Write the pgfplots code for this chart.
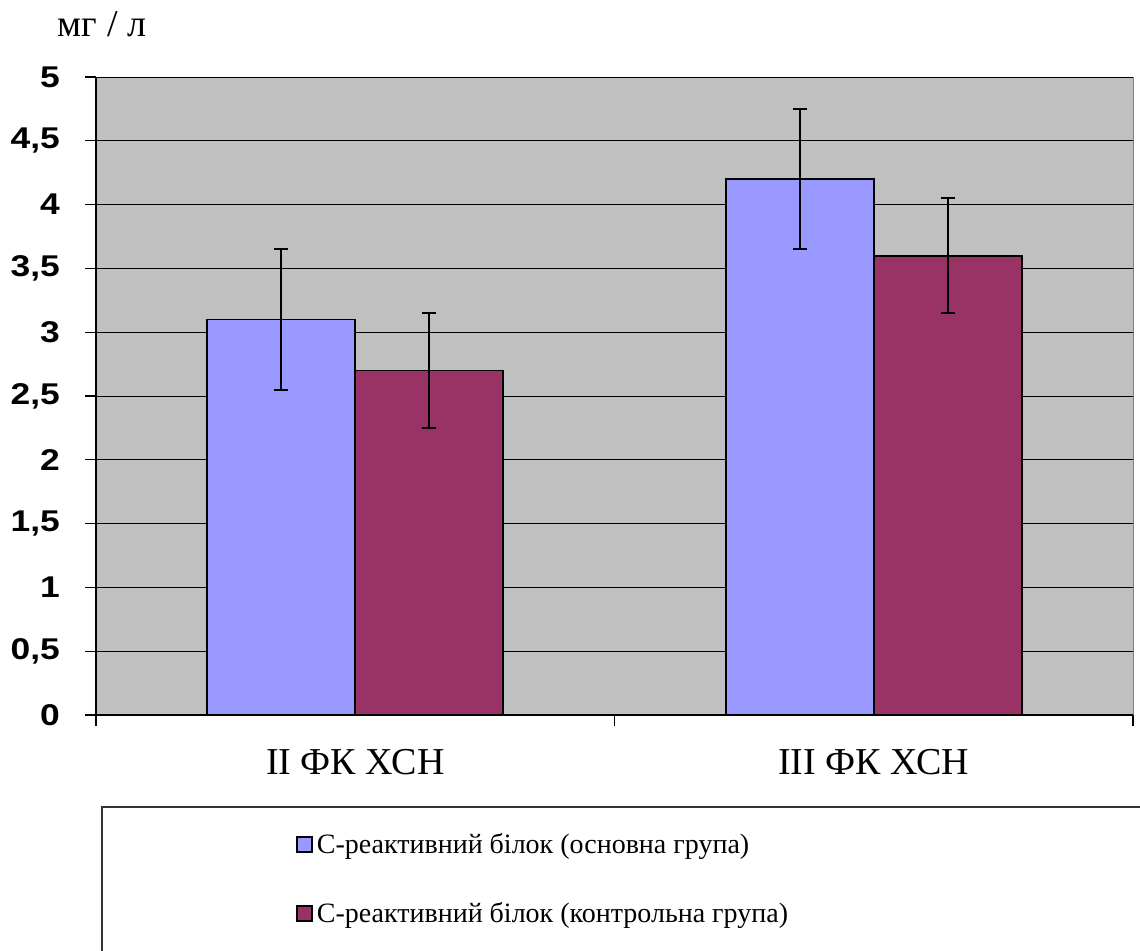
\documentclass[border=0pt]{standalone}
\usepackage{fontspec}
\setmainfont{Liberation Serif}
\setsansfont{Liberation Sans}
\newfontfamily\tickfont{Liberation Sans}[FakeStretch=1.18]
\usepackage{pgfplots}
\pgfplotsset{compat=1.18}
\definecolor{bgray}{HTML}{C0C0C0}
\definecolor{cblue}{HTML}{9999FF}
\definecolor{cplum}{HTML}{993366}
\begin{document}
\begin{tikzpicture}
\useasboundingbox (-48pt,-117.5pt) rectangle (522pt,357.5pt);
\begin{axis}[
  scale only axis, width=518.5pt, height=319pt,
  at={(0,0)}, anchor=south west,
  xmin=-0.5, xmax=1.5, ymin=0, ymax=5,
  ybar=0pt, bar width=74pt,
  axis background/.style={fill=bgray, draw=gray},
  axis x line*=bottom, axis y line*=left,
  axis line style={black, line width=0.8pt},
  xtick={0,1}, xticklabels={II ФК ХСН, III ФК ХСН},
  minor xtick={-0.5,0.5,1.5},
  major x tick style={draw=none},
  minor tick length=5.5pt, major tick length=5.5pt,
  tick align=outside,
  tick style={black, line width=0.6pt},
  ytick distance=0.5,
  /pgf/number format/.cd, use comma, fixed, precision=1, assume math mode=true,
  /pgfplots/.cd,
  yticklabel style={font=\tickfont\bfseries\fontsize{15}{18}\selectfont, xshift=-9pt},
  xticklabel style={font=\fontsize{19}{22}\selectfont, yshift=-8pt},
  ymajorgrids, grid style={black, line width=0.5pt},
  legend cell align=left,
  legend style={at={(0.187,-0.172)}, anchor=north west, draw=none, fill=none,
    font=\fontsize{14}{17}\selectfont, row sep=19pt},
  legend image code/.code={\draw[#1, draw=black, line width=0.9pt] (0pt,-3.7pt) rectangle (7.4pt,3.7pt);},
]
\addplot[fill=cblue, draw=black, line width=0.9pt,
  error bars/.cd, y dir=both, y explicit,
  error bar style={black, line width=0.9pt},
  error mark options={black, rotate=90, mark size=3.5pt, line width=0.9pt}]
  coordinates {(0,3.1) +- (0,0.55) (1,4.2) +- (0,0.55)};
\addlegendentry{С-реактивний білок (основна група)}
\addplot[fill=cplum, draw=black, line width=0.9pt,
  error bars/.cd, y dir=both, y explicit,
  error bar style={black, line width=0.9pt},
  error mark options={black, rotate=90, mark size=3.5pt, line width=0.9pt}]
  coordinates {(0,2.7) +- (0,0.45) (1,3.6) +- (0,0.45)};
\addlegendentry{С-реактивний білок (контрольна група)}
\end{axis}
\node[font=\fontsize{19}{22}\selectfont] at (3pt,345.5pt) {мг / л};
\draw[black!80, line width=0.6pt] (3pt,-130pt) -- (3pt,-46pt) -- (530pt,-46pt);
\end{tikzpicture}
\end{document}
